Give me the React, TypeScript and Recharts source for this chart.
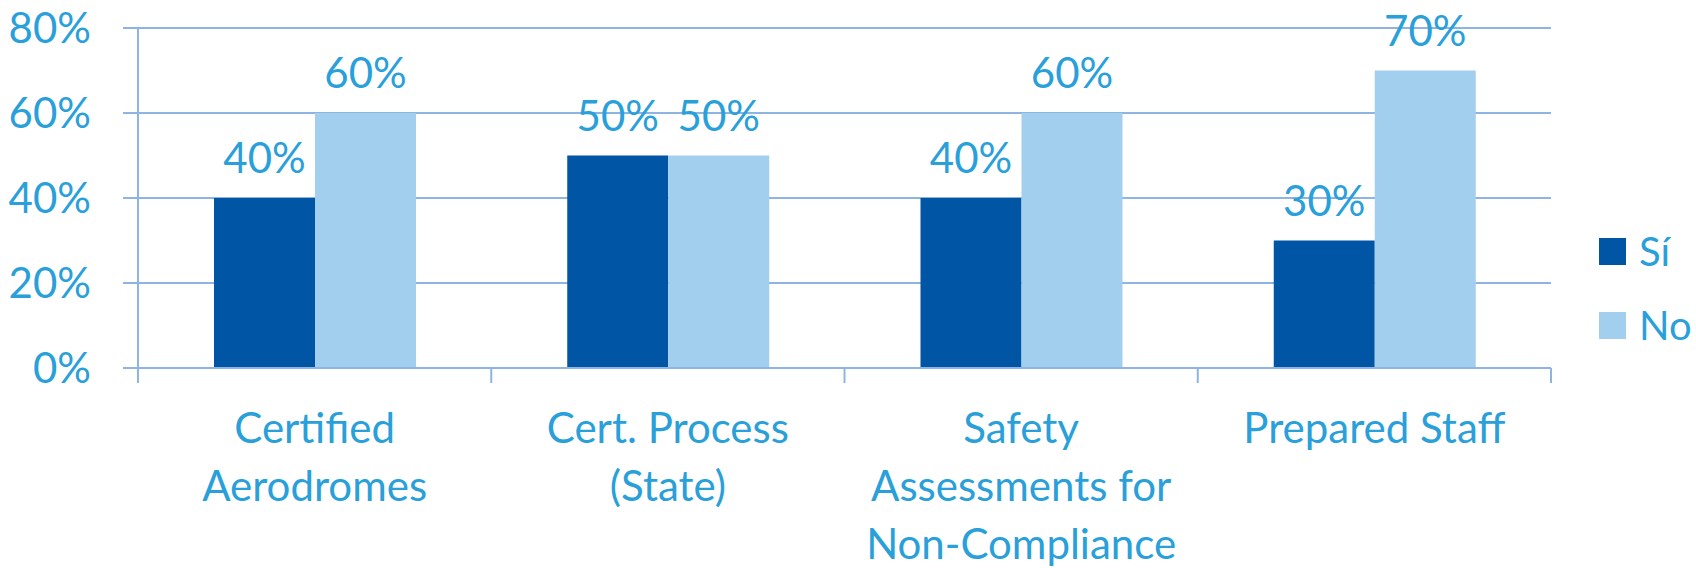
import { BarChart, Bar, XAxis, YAxis, CartesianGrid, LabelList, Legend } from 'recharts';

const categories = ['Certified Aerodromes', 'Cert. Process (State)', 'Safety Assessments for Non-Compliance', 'Prepared Staff'];
const categoryLines = [
  ['Certified', 'Aerodromes'],
  ['Cert. Process', '(State)'],
  ['Safety', 'Assessments for', 'Non-Compliance'],
  ['Prepared Staff'],
];
const siValues = [40, 50, 40, 30];
const noValues = [60, 50, 60, 70];
const yTicks = [0, 20, 40, 60, 80];

const data = categories.map((name, i) => ({ name, si: siValues[i], no: noValues[i] }));

const W = 1696;
const H = 568;
const MARGIN = { top: 28, right: 145, left: 0, bottom: 0 };
const Y_AXIS_W = 138;
const X_AXIS_H = 200;
const TEXT = '#29A0DA';
const GRID = '#8DB4E2';
const DARK = '#0055A5';
const LIGHT = '#A3CFEF';
const FONT = 'Lato, "Open Sans", sans-serif';

const band = (W - MARGIN.left - MARGIN.right - Y_AXIS_W) / categories.length;

const CategoryTick = (props: any) => {
  const { x, y, payload, index } = props;
  const lines = categoryLines[index] ?? [payload.value];
  return (
    <g>
      <line x1={x - band / 2} x2={x - band / 2} y1={y} y2={y + 15} stroke={GRID} strokeWidth={2} />
      {index === categories.length - 1 && (
        <line x1={x + band / 2} x2={x + band / 2} y1={y} y2={y + 15} stroke={GRID} strokeWidth={2} />
      )}
      <text x={x} y={y + 75} textAnchor="middle" fill={TEXT} fontSize={42} fontFamily={FONT}>
        {lines.map((l, i) => (
          <tspan key={i} x={x} dy={i === 0 ? 0 : 58}>
            {l}
          </tspan>
        ))}
      </text>
    </g>
  );
};

const renderLegend = () => (
  <div style={{ fontFamily: FONT, fontSize: 40, color: TEXT, lineHeight: 1, width: 120 }}>
    {[
      { label: 'Sí', color: DARK },
      { label: 'No', color: LIGHT },
    ].map((item) => (
      <div key={item.label} style={{ display: 'flex', alignItems: 'center', height: 74 }}>
        <span
          style={{ display: 'inline-block', flexShrink: 0, width: 27, height: 27, background: item.color, marginRight: 13 }}
        />
        <span>{item.label}</span>
      </div>
    ))}
  </div>
);

export default function App() {
  return (
    <div style={{ position: 'absolute', left: 0, top: 0, width: W, height: H, background: '#fff' }}>
      <BarChart width={W} height={H} data={data} margin={MARGIN} barGap={0} barSize={101}>
        <CartesianGrid vertical={false} stroke={GRID} strokeWidth={2} />
        <XAxis
          dataKey="name"
          height={X_AXIS_H}
          stroke={GRID}
          strokeWidth={2}
          tickLine={false}
          tickSize={0}
          tickMargin={0}
          interval={0}
          tick={<CategoryTick />}
        />
        <YAxis
          width={Y_AXIS_W}
          domain={[0, 80]}
          ticks={yTicks}
          interval={0}
          tickFormatter={(v) => `${v}%`}
          stroke={GRID}
          strokeWidth={2}
          tickSize={15}
          tickMargin={32}
          tick={{ fill: TEXT, fontSize: 42, fontFamily: FONT }}
        />
        <Legend
          content={renderLegend}
          wrapperStyle={{ left: 1599, top: 214, width: 0, height: 0, overflow: 'visible', whiteSpace: 'nowrap' }}
        />
        <Bar dataKey="si" name="Sí" fill={DARK} isAnimationActive={false}>
          <LabelList dataKey="si" position="top" offset={25} formatter={(v: any) => `${v}%`} fill={TEXT} fontSize={42} fontFamily={FONT} />
        </Bar>
        <Bar dataKey="no" name="No" fill={LIGHT} isAnimationActive={false}>
          <LabelList dataKey="no" position="top" offset={25} formatter={(v: any) => `${v}%`} fill={TEXT} fontSize={42} fontFamily={FONT} />
        </Bar>
      </BarChart>
    </div>
  );
}
